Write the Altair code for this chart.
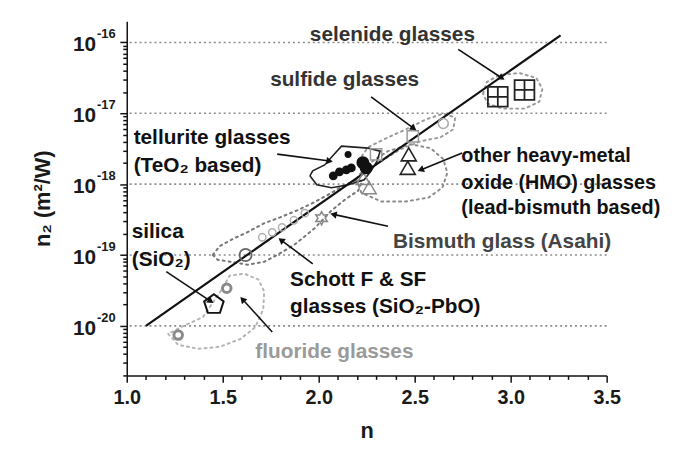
import math
import altair as alt
import pandas as pd

# ---------------- axes / layout constants ----------------
X_MIN, X_MAX = 1.0, 3.5
Y_LOG_MIN, Y_LOG_MAX = -20.7, -15.7
W, H = 485, 358
FONT = "Liberation Sans"

x_tick_values = [1.0, 1.1, 1.2, 1.3, 1.4, 1.5, 1.6, 1.7, 1.8, 1.9, 2.0, 2.1, 2.2, 2.3,
                 2.4, 2.5, 2.6, 2.7, 2.8, 2.9, 3.0, 3.1, 3.2, 3.3, 3.4, 3.5]
y_decades = [-20, -19, -18, -17, -16]
y_decade_base = ["10", "10", "10", "10", "10"]
y_decade_exp = ["-20", "-19", "-18", "-17", "-16"]

# ---------------- data (n, log10 n2) ----------------
miller_n = [1.1, 3.26]
miller_log = [-20.0, -15.90]

fluoride_n = [1.268, 1.521]
fluoride_log = [-20.13, -19.47]

silica_n = [1.454]
silica_log = [-19.70]

schott_n = [1.619]
schott_log = [-19.00]
schott_faint_n = [1.706, 1.758, 1.809, 1.871, 1.928]
schott_faint_log = [-18.75, -18.68, -18.61, -18.51, -18.41]

bismuth_n = [2.015]
bismuth_log = [-18.48]

tellurite_small_n = [2.153]
tellurite_small_log = [-17.58]
tellurite_mid_n = [2.076, 2.108, 2.144, 2.170]
tellurite_mid_log = [-17.883, -17.827, -17.799, -17.771]
tellurite_big_n = [2.230, 2.247]
tellurite_big_log = [-17.697, -17.771]

hmo_tri_n = [2.469, 2.464]
hmo_tri_log = [-17.58, -17.77]
gray_tri_n = [2.232, 2.263]
gray_tri_log = [-17.92, -18.05]

sulfide_sq_n = [2.299, 2.490]
sulfide_sq_log = [-17.58, -17.325]
sulfide_circ_n = [2.649]
sulfide_circ_log = [-17.144]

selenide_n = [2.933, 3.072]
selenide_log = [-16.767, -16.67]

# outlines
tellurite_out_n = [1.954, 1.990, 2.067, 2.155, 2.237, 2.273, 2.304, 2.320, 2.258, 2.119, 2.072, 2.031, 1.969, 1.954]
tellurite_out_log = [-17.883, -18.008, -18.050, -18.008, -17.939, -17.813, -17.674, -17.534, -17.492, -17.464,
                     -17.604, -17.729, -17.813, -17.883]

selenide_out_n = [2.856, 2.876, 2.943, 3.046, 3.134, 3.165, 3.149, 3.072, 2.959, 2.881, 2.856]
selenide_out_log = [-16.725, -16.558, -16.460, -16.432, -16.502, -16.656, -16.837, -16.934, -16.934, -16.865, -16.725]

sulfide_out_n = [2.206, 2.258, 2.351, 2.454, 2.557, 2.649, 2.711, 2.701, 2.634, 2.531, 2.428, 2.325, 2.247, 2.206]
sulfide_out_log = [-17.674, -17.478, -17.353, -17.227, -17.088, -17.004, -17.060, -17.227, -17.339, -17.395,
                   -17.506, -17.674, -17.785, -17.674]

hmo_out_n = [2.196, 2.258, 2.361, 2.479, 2.582, 2.649, 2.670, 2.644, 2.572, 2.454, 2.325, 2.222, 2.196]
hmo_out_log = [-17.925, -17.715, -17.534, -17.437, -17.492, -17.646, -17.841, -18.050, -18.190, -18.245,
               -18.245, -18.120, -17.925]

schott_out_n = [1.448, 1.485, 1.552, 1.629, 1.716, 1.799, 1.887, 1.964, 2.041, 2.119, 2.186, 2.227, 2.206,
                2.144, 2.067, 1.979, 1.923, 1.871, 1.784, 1.716, 1.629, 1.541, 1.474, 1.448]
schott_out_log = [-18.999, -18.873, -18.775, -18.678, -18.552, -18.469, -18.371, -18.273, -18.162, -18.036,
                  -17.953, -17.953, -18.092, -18.204, -18.371, -18.622, -18.748, -18.859, -18.999, -19.096,
                  -19.138, -19.096, -19.068, -18.999]

fluoride_out_n = [1.216, 1.268, 1.371, 1.485, 1.593, 1.670, 1.711, 1.716, 1.686, 1.613, 1.536, 1.495, 1.397,
                  1.294, 1.216]
fluoride_out_log = [-20.114, -20.268, -20.324, -20.296, -20.184, -20.017, -19.766, -19.515, -19.347, -19.264,
                    -19.292, -19.487, -19.877, -20.003, -20.114]

# arrows: start -> head
arrow_n0 = [2.727, 2.273, 1.784, 2.747, 2.361, 1.969, 1.206, 1.758]
arrow_l0 = [-16.098, -16.767, -17.576, -17.562, -18.594, -19.124, -19.236, -20.086]
arrow_n1 = [2.954, 2.495, 2.057, 2.531, 2.077, 1.804, 1.438, 1.603]
arrow_l1 = [-16.502, -17.213, -17.674, -17.799, -18.427, -18.789, -19.654, -19.626]

# annotations
label_texts = ["selenide glasses", "sulfide glasses", "tellurite glasses", "(TeO\u2082 based)",
               "Bismuth glass (Asahi)", "silica", "(SiO\u2082)", "Schott F & SF",
               "glasses (SiO\u2082-PbO)", "fluoride glasses"]
label_n = [1.954, 1.747, 1.036, 1.036, 2.387, 1.026, 1.026, 1.851, 1.851, 1.670]
label_log = [-15.902, -16.530, -17.353, -17.743, -18.817, -18.678, -19.068, -19.347, -19.738, -20.365]
label_colors = ["#333333", "#333333", "#111111", "#111111",
                "#444444", "#111111", "#111111", "#111111", "#111111", "#9a9a9a"]

hmo_texts = ["other heavy-metal", "oxide (HMO) glasses", "(lead-bismuth based)"]
hmo_text_n = [2.743, 2.743, 2.743]
hmo_text_log = [-17.604, -17.980, -18.343]

# ---------------- shared encodings ----------------
xscale = alt.Scale(domain=[X_MIN, X_MAX], nice=False, zero=False)
yscale = alt.Scale(type="log", domain=[10 ** Y_LOG_MIN, 10 ** Y_LOG_MAX], nice=False)

y_minor = [m * 10.0 ** k for k in range(-21, -15) for m in range(1, 10)
           if 10 ** Y_LOG_MIN <= m * 10.0 ** k <= 10 ** Y_LOG_MAX]

xaxis = alt.Axis(
    values=x_tick_values, title="n", grid=False,
    labelExpr="abs(datum.value*2 - round(datum.value*2)) < 0.001 ? format(datum.value, '.1f') : ''",
    labelOverlap=False, labelFlush=False, labelFont=FONT, labelFontSize=20, labelFontWeight="bold",
    labelColor="#1a1a1a", labelPadding=5,
    tickSize={"condition": {"test": "abs(datum.value*2 - round(datum.value*2)) < 0.001", "value": 7},
              "value": 4},
    tickColor="#111", tickWidth=1.5, domainColor="#111", domainWidth=1.5,
    titleFont=FONT, titleFontSize=22, titleFontWeight="bold", titleColor="#1a1a1a",
    titleX=W / 2, titleY=56, titleBaseline="middle", titleAlign="center",
)
yaxis = alt.Axis(
    values=y_minor, title="n\u2082 (m\u00b2/W)", grid=False, labels=False,
    tickSize={"condition": {"test": "abs(log(datum.value)/LN10 - round(log(datum.value)/LN10)) < 0.001",
                            "value": 7}, "value": 4},
    tickColor="#111", tickWidth=1.5, domainColor="#111", domainWidth=1.5,
    titleFont=FONT, titleFontSize=22, titleFontWeight="bold", titleColor="#1a1a1a",
    titleX=-85, titleY=H / 2, titleAngle=270, titleAlign="center", titleBaseline="middle",
)


def X(field="n"):
    return alt.X(f"{field}:Q", scale=xscale, axis=xaxis)


def Y(field="n2"):
    return alt.Y(f"{field}:Q", scale=yscale, axis=yaxis)


def pts(ns, logs):
    return pd.DataFrame({"n": ns, "n2": [10 ** v for v in logs]})


def poly(ns, logs):
    return pd.DataFrame({"n": ns, "n2": [10 ** v for v in logs], "i": list(range(len(ns)))})


# custom shapes
PENTAGON = "M0,-1L0.951,-0.309L0.588,0.809L-0.588,0.809L-0.951,-0.309Z"
GRIDSQ = "M-1,-1H1V1H-1ZM0,-1V1M-1,0H1"
_star = []
for j in range(12):
    r = 1.0 if j % 2 == 0 else 0.55
    a = math.pi * j / 6
    _star.append(f"{r * math.sin(a):.3f},{-r * math.cos(a):.3f}")
STAR = "M" + "L".join(_star) + "Z"

layers = []

# decade gridlines
grid_df = pd.DataFrame({"n2": [10.0 ** d for d in y_decades]})
layers.append(alt.Chart(grid_df).mark_rule(color="#8c8c8c", strokeDash=[2, 3], strokeWidth=1.6)
              .encode(y=Y()))


# dotted outlines
def outline(ns, logs, color, dash=(2, 4), width=2.0):
    return (alt.Chart(poly(ns, logs))
            .mark_line(color=color, strokeDash=list(dash), strokeWidth=width, strokeCap="round")
            .encode(x=X(), y=Y(), order="i:Q"))


layers.append(outline(fluoride_out_n, fluoride_out_log, "#b5b5b5"))
layers.append(outline(schott_out_n, schott_out_log, "#777777"))
layers.append(outline(hmo_out_n, hmo_out_log, "#8a8a8a"))
layers.append(outline(sulfide_out_n, sulfide_out_log, "#9a9a9a"))
layers.append(outline(selenide_out_n, selenide_out_log, "#9a9a9a"))
layers.append(alt.Chart(poly(tellurite_out_n, tellurite_out_log))
              .mark_line(color="#222", strokeWidth=1.6)
              .encode(x=X(), y=Y(), order="i:Q"))

# Miller line
layers.append(alt.Chart(pts(miller_n, miller_log)).mark_line(color="#111", strokeWidth=2.2)
              .encode(x=X(), y=Y()))


# markers
def marker(ns, logs, shape, size, color, filled=False, sw=1.5, opacity=1.0):
    return (alt.Chart(pts(ns, logs))
            .mark_point(shape=shape, size=size, filled=filled, color=color, strokeWidth=sw,
                        opacity=opacity, fillOpacity=1 if filled else 0)
            .encode(x=X(), y=Y()))


layers.append(marker(fluoride_n, fluoride_log, "circle", 75, "#8a8a8a", sw=3))
layers.append(marker(silica_n, silica_log, PENTAGON, 430, "#111", sw=2))
layers.append(marker(schott_faint_n, schott_faint_log, "circle", 55, "#b0b0b0", sw=1.5))
layers.append(marker(schott_n, schott_log, "circle", 150, "#666", sw=1.8))
layers.append(marker(bismuth_n, bismuth_log, STAR, 180, "#888", sw=1.5))
layers.append(marker(gray_tri_n, gray_tri_log, "triangle-up", 200, "#888", sw=1.5))
layers.append(marker(sulfide_sq_n, sulfide_sq_log, "square", 130, "#999", sw=1.5))
layers.append(marker(sulfide_circ_n, sulfide_circ_log, "circle", 100, "#aaa", sw=1.5))
layers.append(marker(hmo_tri_n, hmo_tri_log, "triangle-up", 230, "#222", sw=1.6))
layers.append(marker(selenide_n, selenide_log, GRIDSQ, 400, "#222", sw=1.8))
layers.append(marker(tellurite_mid_n, tellurite_mid_log, "circle", 80, "#111", filled=True))
layers.append(marker(tellurite_small_n, tellurite_small_log, "circle", 50, "#111", filled=True))
layers.append(marker(tellurite_big_n, tellurite_big_log, "circle", 170, "#111", filled=True))

# arrows
px_per_n = W / (X_MAX - X_MIN)
px_per_dec = H / (Y_LOG_MAX - Y_LOG_MIN)
angles = []
for a0, b0, a1, b1 in zip(arrow_n0, arrow_l0, arrow_n1, arrow_l1):
    dx = (a1 - a0) * px_per_n
    dy = -(b1 - b0) * px_per_dec
    angles.append(math.degrees(math.atan2(dx, -dy)) % 360)
arrow_df = pd.DataFrame({
    "n": arrow_n0, "n2": [10 ** v for v in arrow_l0],
    "n_end": arrow_n1, "n2_end": [10 ** v for v in arrow_l1],
    "angle": angles,
})
layers.append(alt.Chart(arrow_df).mark_rule(color="#111", strokeWidth=1.6)
              .encode(x=X(), y=Y(), x2="n_end:Q", y2="n2_end:Q"))
layers.append(alt.Chart(arrow_df).mark_point(shape="triangle-up", filled=True, size=55, color="#111",
                                             opacity=1)
              .encode(x=X("n_end"), y=Y("n2_end"),
                      angle=alt.Angle("angle:Q", scale=alt.Scale(domain=[0, 360], range=[0, 360]))))

# annotations
text_df = pd.DataFrame({"n": label_n, "n2": [10 ** v for v in label_log],
                        "label": label_texts, "color": label_colors})
layers.append(alt.Chart(text_df).mark_text(align="left", baseline="middle", font=FONT, fontSize=21,
                                           fontWeight="bold")
              .encode(x=X(), y=Y(), text="label:N", color=alt.Color("color:N", scale=None)))
hmo_df = pd.DataFrame({"n": hmo_text_n, "n2": [10 ** v for v in hmo_text_log], "label": hmo_texts})
layers.append(alt.Chart(hmo_df).mark_text(align="left", baseline="middle", font=FONT, fontSize=20,
                                          fontWeight="bold", color="#111")
              .encode(x=X(), y=Y(), text="label:N"))

# y tick labels 10^k
ylab_df = pd.DataFrame({"n2": [10.0 ** d for d in y_decades], "base": y_decade_base, "exp": y_decade_exp})
layers.append(alt.Chart(ylab_df).mark_text(align="right", baseline="middle", font=FONT, fontSize=21,
                                           fontWeight="bold", dy=3, color="#1a1a1a")
              .encode(x=alt.value(-31), y=Y(), text="base:N"))
layers.append(alt.Chart(ylab_df).mark_text(align="left", baseline="middle", font=FONT, fontSize=13,
                                           fontWeight="bold", dy=-8, color="#1a1a1a")
              .encode(x=alt.value(-30), y=Y(), text="exp:N"))

chart = (alt.layer(*layers)
         .properties(width=W, height=H,
                     padding={"left": 120, "top": 11, "right": 62, "bottom": 70},
                     autosize=alt.AutoSizeParams(type="none"),
                     background="white")
         .configure_view(stroke=None))

chart.save("out.html", embed_options={"renderer": "svg", "actions": False})
